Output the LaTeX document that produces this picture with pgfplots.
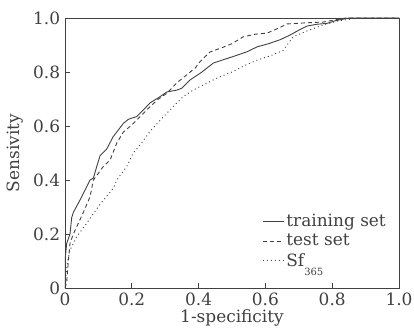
\documentclass[border=0pt]{standalone}
\usepackage{fontspec}
\setmainfont{DejaVu Serif}
\usepackage{pgfplots}
\pgfplotsset{compat=1.18}
\definecolor{lc}{HTML}{404040}
\begin{document}
\fontsize{17}{20}\selectfont
\begin{tikzpicture}
\begin{axis}[
  at={(0,0)}, anchor=south west,
  scale only axis, width=334bp, height=270bp,
  xmin=0, xmax=1, ymin=0, ymax=1,
  xtick={0,0.2,0.4,0.6,0.8,1.0},
  ytick={0,0.2,0.4,0.6,0.8,1.0},
  xticklabels={0,0.2,0.4,0.6,0.8,1.0},
  yticklabels={0,0.2,0.4,0.6,0.8,1.0},
  /pgf/number format/assume math mode=true,
  xtick pos=left, ytick pos=left,
  tick align=inside, major tick length=5bp,
  axis line style={lc, line width=0.9pt},
  tick style={lc, line width=0.8pt},
  ticklabel style={font=\fontsize{17}{20}\selectfont, text=lc},
  xticklabel style={yshift=1bp},
  yticklabel style={xshift=1bp},
  label style={font=\fontsize{17}{20}\selectfont, text=lc},
  xlabel={1-specificity}, ylabel={Sensivity},
  xlabel style={yshift=8bp},
  ylabel style={yshift=-2bp},
  legend style={at={(0.97,0.06)}, anchor=south east, draw=none, fill=none,
    font=\fontsize{17}{20}\selectfont, text=lc, row sep=1bp, inner sep=1bp,
    /tikz/every even column/.append style={column sep=4bp}},
  legend cell align=left,
  legend image code/.code={\draw[#1] (0bp,0bp) -- (21bp,0bp);},
]
\addplot[lc, line width=0.9pt] coordinates {
(0,0) (0,0.10) (0.005,0.165) (0.015,0.20) (0.02,0.26) (0.025,0.28)
(0.045,0.326) (0.06,0.363) (0.075,0.40) (0.085,0.407) (0.095,0.45)
(0.105,0.49) (0.125,0.515) (0.144,0.56) (0.175,0.61) (0.19,0.625)
(0.215,0.635) (0.235,0.66) (0.254,0.685) (0.28,0.705) (0.305,0.726)
(0.335,0.733) (0.35,0.74) (0.374,0.77) (0.41,0.80) (0.444,0.833)
(0.473,0.845) (0.51,0.86) (0.545,0.875) (0.575,0.893) (0.61,0.905)
(0.645,0.92) (0.674,0.937) (0.70,0.955) (0.724,0.97) (0.755,0.977)
(0.784,0.98) (0.81,0.99) (0.85,1.0) (1,1)
};
\addlegendentry{training set}
\addplot[lc, line width=0.9pt, dash pattern=on 4bp off 3bp] coordinates {
(0,0) (0.005,0.02) (0.01,0.10) (0.015,0.165) (0.025,0.20) (0.04,0.24)
(0.055,0.28) (0.075,0.338) (0.085,0.40) (0.10,0.425) (0.114,0.449)
(0.135,0.474) (0.155,0.537) (0.175,0.578) (0.20,0.604) (0.225,0.635)
(0.254,0.671) (0.28,0.70) (0.305,0.721) (0.335,0.76) (0.365,0.79)
(0.39,0.815) (0.404,0.838) (0.434,0.874) (0.47,0.89) (0.50,0.905)
(0.533,0.93) (0.57,0.94) (0.605,0.944) (0.635,0.96) (0.665,0.978)
(0.72,0.982) (0.773,0.985) (0.84,1.0) (1,1)
};
\addlegendentry{test set}
\addplot[lc, line width=0.9pt, dash pattern=on 1bp off 3bp] coordinates {
(0,0) (0.003,0.05) (0.008,0.10) (0.015,0.14) (0.035,0.19) (0.065,0.24)
(0.105,0.31) (0.145,0.37) (0.155,0.40) (0.185,0.45) (0.204,0.50)
(0.225,0.53) (0.254,0.579) (0.28,0.615) (0.305,0.647) (0.33,0.68)
(0.354,0.709) (0.38,0.73) (0.404,0.746) (0.454,0.777) (0.50,0.80)
(0.54,0.825) (0.575,0.844) (0.615,0.86) (0.653,0.88) (0.683,0.93)
(0.72,0.95) (0.773,0.974) (0.82,0.99) (0.88,1.0) (1,1)
};
\addlegendentry{Sf\raisebox{-9bp}{\fontsize{10}{10}\selectfont 365}}
\end{axis}
\pgfresetboundingbox
\path[use as bounding box] (-65bp,-47bp) rectangle (349bp,288bp);
\end{tikzpicture}
\end{document}
